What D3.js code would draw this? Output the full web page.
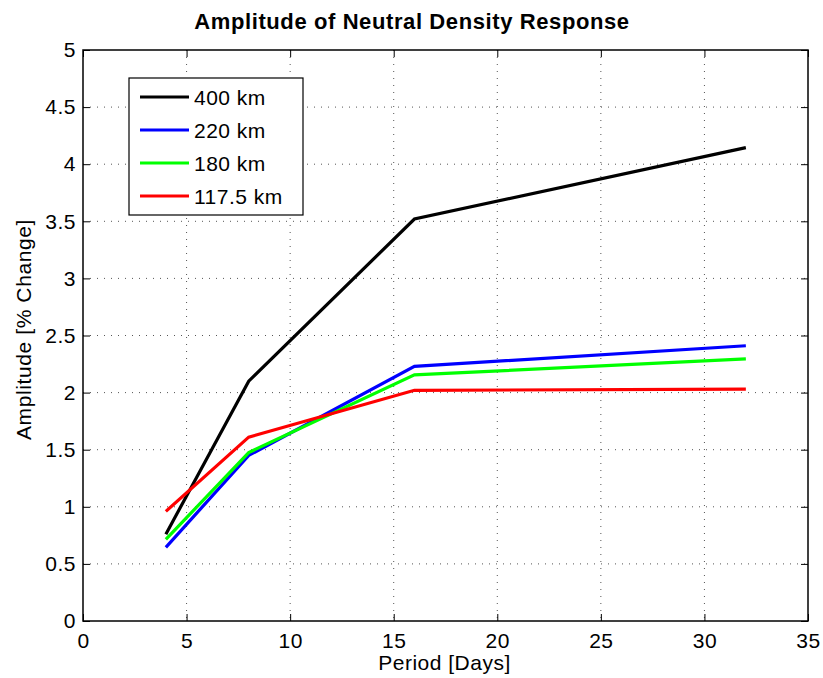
<!DOCTYPE html>
<html>
<head>
<meta charset="utf-8">
<script src="https://cdn.jsdelivr.net/npm/d3@7"></script>
<style>
  body { margin: 0; background: #fff; }
  text { font-family: "Liberation Sans", Arial, sans-serif; }
</style>
</head>
<body>
<div id="chart"></div>
<script>
// data
var periods = [4, 8, 16, 32];
var seriesNames = ["400 km", "220 km", "180 km", "117.5 km"];
var amp400 = [0.76, 2.10, 3.52, 4.145];
var amp220 = [0.645, 1.45, 2.23, 2.41];
var amp180 = [0.715, 1.475, 2.155, 2.295];
var amp1175 = [0.96, 1.61, 2.02, 2.03];
var xTicks = [0, 5, 10, 15, 20, 25, 30, 35];
var yTicks = [0, 0.5, 1, 1.5, 2, 2.5, 3, 3.5, 4, 4.5, 5];
var colors = ["#000000", "#0000ff", "#00ff00", "#ff0000"];

function init(){
    var w = 823, h = 678;
    var left = 83, right = 808, top = 50, bottom = 621;
    var fs = "21px";

    var series = [amp400, amp220, amp180, amp1175].map(function(vals, i){
        return {
            name: seriesNames[i],
            color: colors[i],
            values: periods.map(function(p, j){ return {x: p, y: vals[j]}; })
        };
    });

    var xScale = d3.scaleLinear().domain([0, 35]).range([left, right]);
    var yScale = d3.scaleLinear().domain([0, 5]).range([bottom, top]);

    var svg = d3.select("#chart").append("svg")
        .attr("width", w).attr("height", h);

    // grid
    svg.append("g").selectAll("line").data(xTicks.slice(1, -1)).enter().append("line")
        .attr("x1", d => xScale(d)).attr("x2", d => xScale(d))
        .attr("y1", top).attr("y2", bottom)
        .attr("stroke", "#555").attr("stroke-width", 1)
        .attr("stroke-dasharray", "1,6");
    svg.append("g").selectAll("line").data(yTicks.slice(1, -1)).enter().append("line")
        .attr("y1", d => yScale(d)).attr("y2", d => yScale(d))
        .attr("x1", left).attr("x2", right)
        .attr("stroke", "#555").attr("stroke-width", 1)
        .attr("stroke-dasharray", "1,6");

    // axes: ticks inward on all four sides
    var tk = 7;
    var xAxis = d3.axisBottom(xScale).tickValues(xTicks).tickSizeInner(-tk).tickSizeOuter(0).tickPadding(tk + 5);
    var yAxis = d3.axisLeft(yScale).tickValues(yTicks).tickSizeInner(-tk).tickSizeOuter(0).tickPadding(tk + 6)
        .tickFormat(d3.format("~g"));
    var xTop = d3.axisTop(xScale).tickValues(xTicks).tickSizeInner(-tk).tickSizeOuter(0).tickFormat("");
    var yRight = d3.axisRight(yScale).tickValues(yTicks).tickSizeInner(-tk).tickSizeOuter(0).tickFormat("");

    function style(g){
        g.select(".domain").remove();
        g.selectAll("line").attr("stroke", "#000");
        g.selectAll("text").attr("font-size", fs).attr("fill", "#000")
            .attr("letter-spacing", "0.5px")
            .attr("font-family", "'Liberation Sans', Arial, sans-serif");
    }
    svg.append("g").attr("transform", "translate(0," + bottom + ")").call(xAxis).call(style);
    svg.append("g").attr("transform", "translate(" + left + ",0)").call(yAxis).call(style)
        .selectAll("text").attr("dx", "6px");
    svg.append("g").attr("transform", "translate(0," + top + ")").call(xTop).call(style);
    svg.append("g").attr("transform", "translate(" + right + ",0)").call(yRight).call(style);

    svg.append("rect")
        .attr("x", left).attr("y", top).attr("width", right - left).attr("height", bottom - top)
        .attr("fill", "none").attr("stroke", "#000").attr("stroke-width", 1.5);

    // lines
    var line = d3.line().x(d => xScale(d.x)).y(d => yScale(d.y));
    svg.append("g").selectAll("path").data(series).enter().append("path")
        .attr("d", d => line(d.values))
        .attr("fill", "none")
        .attr("stroke", d => d.color)
        .attr("stroke-width", 3.2);

    // legend
    var lg = svg.append("g").attr("transform", "translate(129,78)");
    lg.append("rect").attr("width", 174).attr("height", 137)
        .attr("fill", "#fff").attr("stroke", "#000").attr("stroke-width", 1.2);
    var rows = lg.selectAll("g.row").data(series).enter().append("g")
        .attr("transform", (d, i) => "translate(0," + (19 + i * 33) + ")");
    rows.append("line").attr("x1", 11).attr("x2", 60)
        .attr("stroke", d => d.color).attr("stroke-width", 3.2);
    rows.append("text").attr("x", 65).attr("y", 8)
        .attr("font-size", fs).attr("letter-spacing", "0.5px").text(d => d.name);

    // titles
    svg.append("text").attr("x", 412).attr("y", 29)
        .attr("text-anchor", "middle").attr("font-size", "22px").attr("font-weight", "bold")
        .attr("letter-spacing", "0.6px")
        .text("Amplitude of Neutral Density Response");
    svg.append("text").attr("x", (left + right) / 2 - 1).attr("y", 670)
        .attr("text-anchor", "middle").attr("font-size", fs).attr("letter-spacing", "0.5px")
        .text("Period [Days]");
    svg.append("text").attr("transform", "translate(31," + ((top + bottom) / 2 - 6) + ") rotate(-90)")
        .attr("text-anchor", "middle").attr("font-size", fs).attr("letter-spacing", "0.6px")
        .text("Amplitude [% Change]");
}
window.onload = init;
</script>
</body>
</html>
